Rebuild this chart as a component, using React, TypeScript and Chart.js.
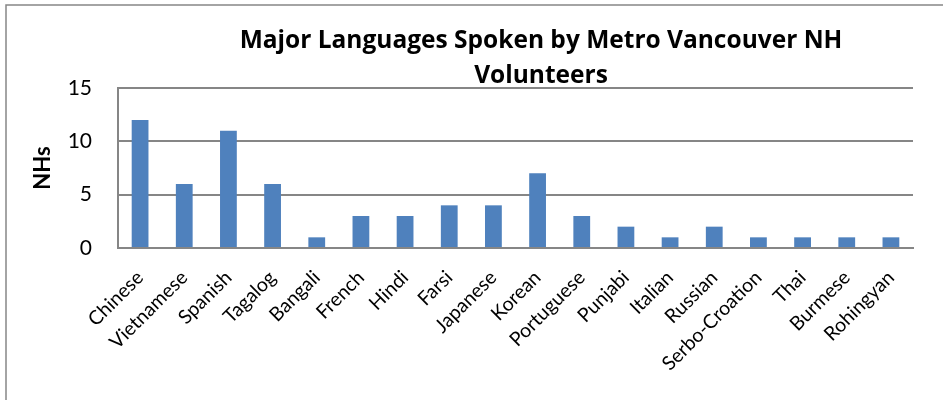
import { useEffect, useRef } from "react";
import { Chart, registerables } from "chart.js";

Chart.register(...registerables);

const categories = [
  "Chinese",
  "Vietnamese",
  "Spanish",
  "Tagalog",
  "Bangali",
  "French",
  "Hindi",
  "Farsi",
  "Japanese",
  "Korean",
  "Portuguese",
  "Punjabi",
  "Italian",
  "Russian",
  "Serbo-Croation",
  "Thai",
  "Burmese",
  "Rohingyan",
];
const nhValues = [12, 6, 11, 6, 1, 3, 3, 4, 4, 7, 3, 2, 1, 2, 1, 1, 1, 1];
const yMin = 0;
const yMax = 15;
const yStep = 5;
const titleLines = ["Major Languages Spoken by Metro Vancouver NH", "Volunteers"];
const yAxisTitle = "NHs";

const FONT = "Lato, 'Open Sans', sans-serif";
const TITLE_FONT = "'Open Sans', Lato, sans-serif";
const GRAY = "#868686";
const BAR = "#4F81BD";

export default function App() {
  const ref = useRef<HTMLCanvasElement | null>(null);

  useEffect(() => {
    if (!ref.current) return;
    const framePlugin = {
      id: "frameAndTitle",
      afterDraw(chart: any) {
        const ctx = chart.ctx;
        ctx.save();
        ctx.strokeStyle = GRAY;
        ctx.lineWidth = 1.5;
        ctx.strokeRect(6, 5, 2000, 2000);
        ctx.fillStyle = "#000";
        ctx.font = `bold 24.5px ${TITLE_FONT}`;
        ctx.textAlign = "center";
        ctx.textBaseline = "alphabetic";
        const cx = 541;
        ctx.fillText(titleLines[0], cx, 48);
        ctx.fillText(titleLines[1], cx, 83);
        ctx.restore();
      },
    };

    const chart = new Chart(ref.current, {
      type: "bar",
      data: {
        labels: categories,
        datasets: [
          {
            label: "NHs",
            data: nhValues,
            backgroundColor: BAR,
            borderWidth: 0,
            barPercentage: 0.38,
            categoryPercentage: 1,
          },
        ],
      },
      options: {
        animation: false,
        responsive: false,
        devicePixelRatio: 1,
        layout: { padding: { top: 88, right: 30, left: 0, bottom: 0 } },
        plugins: {
          legend: { display: false },
          title: { display: false },
          tooltip: { enabled: false },
        },
        scales: {
          x: {
            grid: { display: false },
            border: { display: true, color: GRAY, width: 2 },
            ticks: {
              color: "#000",
              font: { family: FONT, size: 19.5 },
              maxRotation: 45,
              minRotation: 45,
              autoSkip: false,
              padding: 10,
            },
            afterFit(scale: any) {
              scale.height = 152;
            },
          },
          y: {
            min: yMin,
            max: yMax,
            ticks: {
              stepSize: yStep,
              color: "#000",
              font: { family: FONT, size: 21 },
              padding: 26,
            },
            grid: { color: GRAY, lineWidth: 2, drawTicks: false },
            border: { display: true, color: GRAY, width: 2 },
            title: {
              display: true,
              text: yAxisTitle,
              color: "#000",
              font: { family: FONT, size: 22, weight: "bold" },
              padding: { top: 30, bottom: 0 },
            },
            afterFit(scale: any) {
              scale.width = 118;
            },
          },
        },
      },
      plugins: [framePlugin],
    });
    return () => chart.destroy();
  }, []);

  return (
    <div style={{ position: "absolute", left: 0, top: 0, width: 943, height: 400, background: "#fff" }}>
      <canvas ref={ref} width={943} height={400} style={{ display: "block" }} />
    </div>
  );
}
